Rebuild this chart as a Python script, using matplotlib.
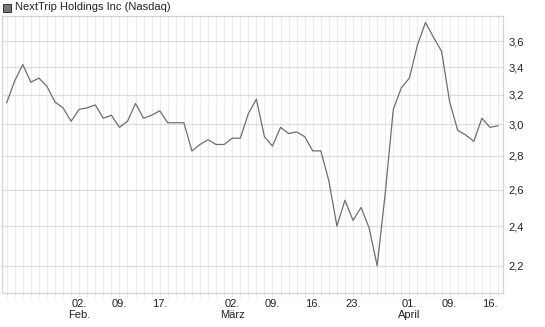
import numpy as np
import matplotlib
matplotlib.use("Agg")
from matplotlib import pyplot as plt
from matplotlib.patches import Rectangle
from matplotlib.ticker import FixedLocator, FixedFormatter, NullFormatter

# trading days, Jan 20 - Apr 17
dates = ["01-20", "01-21", "01-22", "01-23", "01-26", "01-27", "01-28", "01-29", "01-30",
         "02-02", "02-03", "02-04", "02-05", "02-06", "02-09", "02-10", "02-11", "02-12",
         "02-13", "02-17", "02-18", "02-19", "02-20", "02-23", "02-24", "02-25", "02-26",
         "02-27", "03-02", "03-03", "03-04", "03-05", "03-06", "03-09", "03-10", "03-11",
         "03-12", "03-13", "03-16", "03-17", "03-18", "03-19", "03-20", "03-23", "03-24",
         "03-25", "03-26", "03-27", "03-30", "03-31", "04-01", "04-02", "04-06", "04-07",
         "04-08", "04-09", "04-10", "04-13", "04-14", "04-15", "04-16", "04-17"]
prices = [3.145, 3.30, 3.42, 3.29, 3.32, 3.26, 3.15, 3.11, 3.02,
          3.10, 3.11, 3.13, 3.04, 3.06, 2.98, 3.02, 3.14, 3.04,
          3.06, 3.09, 3.01, 3.01, 3.01, 2.83, 2.87, 2.90, 2.87,
          2.87, 2.91, 2.91, 3.07, 3.17, 2.92, 2.86, 2.98, 2.94,
          2.95, 2.92, 2.83, 2.83, 2.65, 2.40, 2.54, 2.43, 2.50,
          2.39, 2.20, 2.58, 3.10, 3.25, 3.32, 3.57, 3.75, 3.63,
          3.52, 3.15, 2.96, 2.93, 2.89, 3.04, 2.98, 2.99]

tick_dates = ["02-02", "02-09", "02-17", "03-02", "03-09", "03-16", "03-23", "04-01", "04-09", "04-16"]
tick_labels = ["02.\nFeb.", "09.", "17.", "02.\nMärz", "09.", "16.", "23.", "01.\nApril", "09.", "16."]
y_ticks = [2.2, 2.4, 2.6, 2.8, 3.0, 3.2, 3.4, 3.6]
title = "NextTrip Holdings Inc (Nasdaq)"

plt.rcParams['font.family'] = ['Liberation Sans', 'DejaVu Sans']

fig = plt.figure(figsize=(5.45, 3.27), dpi=100)
ax = fig.add_axes([2 / 545, 1 - 293.3 / 327, 501 / 545, 277.3 / 327])

x = np.arange(len(prices))
ax.plot(x, prices, color="#6e6e6e", lw=0.9, zorder=3)

ax.set_yscale("log")
ax.set_ylim(2.071, 3.804)
ax.set_xlim(-0.58, len(prices) - 1 + 0.62)

ax.yaxis.set_major_locator(FixedLocator(y_ticks))
ax.yaxis.set_major_formatter(FixedFormatter([f"{v:.1f}".replace(".", ",") for v in y_ticks]))
ax.yaxis.set_minor_formatter(NullFormatter())
ax.yaxis.set_minor_locator(FixedLocator([]))
ax.yaxis.tick_right()
ax.tick_params(axis="y", which="both", length=0, pad=4, labelsize=8, labelcolor="#222222")

ticks_x = [dates.index(d) for d in tick_dates]
ax.xaxis.set_major_locator(FixedLocator(ticks_x))
ax.xaxis.set_major_formatter(FixedFormatter(tick_labels))
ax.xaxis.set_minor_locator(FixedLocator(x))
ax.tick_params(axis="x", which="both", length=3, color="#e2e2e2", pad=1,
               labelsize=8, labelcolor="#222222")

ax.grid(axis="x", which="minor", color="#ececec", lw=0.8)
ax.grid(axis="x", which="major", color="#ececec", lw=0.8)
ax.grid(axis="y", which="major", color="#dcdcdc", lw=0.9)
ax.set_axisbelow(True)

for s in ax.spines.values():
    s.set_color("#d4d4d4")
    s.set_linewidth(0.9)

fig.patches.append(Rectangle((3 / 545, 1 - 12 / 327), 8 / 545, 8 / 327,
                             transform=fig.transFigure, facecolor="#777777",
                             edgecolor="#333333", lw=0.7))
fig.text(15 / 545, 1 - 7.5 / 327, title, fontsize=8, va="center", ha="left", color="#222222")

fig.savefig("out.png", dpi=100)
